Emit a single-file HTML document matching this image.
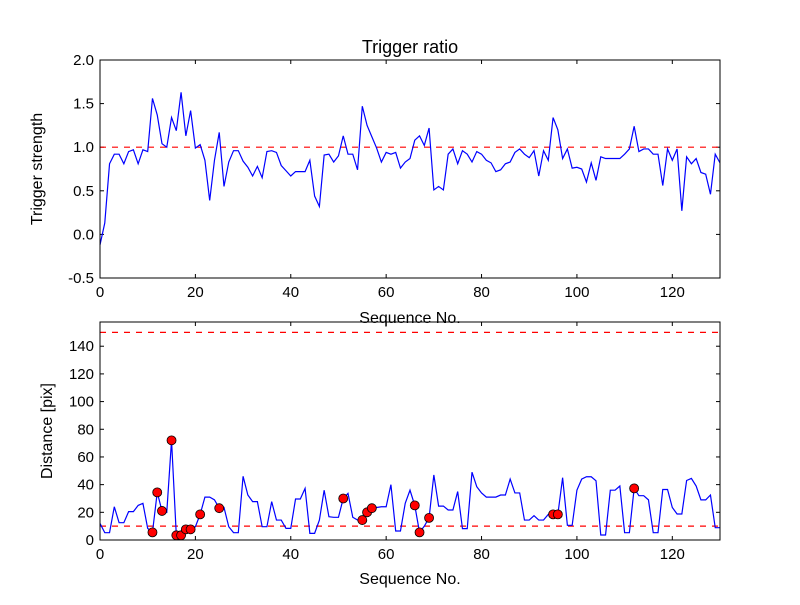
<!DOCTYPE html>
<html><head><meta charset="utf-8"><style>
body{margin:0;background:#fff}
svg text{font-family:"Liberation Sans",sans-serif;fill:#000}
</style></head><body>
<svg id="c" width="800" height="600" xmlns="http://www.w3.org/2000/svg"></svg>
<script>
const strength=[-0.12,0.13,0.81,0.92,0.92,0.81,0.95,0.97,0.81,0.97,0.95,1.56,1.37,1.04,1.0,1.34,1.19,1.63,1.13,1.42,0.99,1.03,0.85,0.39,0.85,1.17,0.55,0.83,0.96,0.96,0.84,0.77,0.67,0.78,0.65,0.95,0.96,0.94,0.79,0.73,0.67,0.72,0.72,0.72,0.85,0.44,0.32,0.91,0.92,0.83,0.9,1.13,0.92,0.92,0.74,1.47,1.25,1.12,0.99,0.83,0.94,0.92,0.94,0.76,0.83,0.87,1.08,1.13,1.02,1.22,0.51,0.55,0.51,0.92,0.98,0.81,0.96,0.92,0.83,0.95,0.92,0.85,0.82,0.72,0.74,0.81,0.83,0.94,0.98,0.92,0.88,0.96,0.67,0.96,0.85,1.34,1.2,0.87,0.98,0.76,0.77,0.75,0.6,0.82,0.62,0.89,0.87,0.87,0.87,0.87,0.92,0.98,1.24,0.95,0.98,0.98,0.92,0.92,0.56,0.98,0.85,0.98,0.27,0.89,0.81,0.87,0.71,0.69,0.46,0.92,0.82];
const distance=[12,5.3,5.3,24,12.5,12.5,20.5,20.5,25,26.5,8.4,5.5,34.4,21,20,72,3.4,3.4,7.7,7.7,9.6,18.5,31,31,29,23,23.5,9.6,5.3,5.3,46,32.5,27.7,27.7,9.6,9.6,27.7,14.4,14.4,8.4,8.4,29.6,29.6,37.3,4.8,4.8,14.4,36,16.8,16.4,16.4,30,33.7,16.4,14.4,14.4,20,23,23.5,24,24,40,6.5,6.5,26.5,36,25,5.5,10,16,47,24.5,24.5,21.7,21.7,35,8.2,8.2,49,38.5,34,31,31,31,32.5,32.5,44,34,34,14.4,14.4,17.6,14.4,14.4,18.5,18.5,18.5,45,10.6,10.6,36,44,45.7,45.7,42.8,3.6,3.6,36,36,39,5.3,5.3,37.3,32,32,29,5.3,5.3,36.5,36.5,23.5,18.8,18.8,43,44.5,39,29,29,32.5,8.9,8.9];
const flagged=[11,12,13,15,16,17,18,19,21,25,51,55,56,57,66,67,69,95,96,112];
const xTicks=[0,20,40,60,80,100,120];
const topTicks=[-0.5,0.0,0.5,1.0,1.5,2.0];
const botTicks=[0,20,40,60,80,100,120,140];
const strengthThreshold=1.0, distLow=10, distHigh=150;

const svg=document.getElementById('c');
const NS='http://www.w3.org/2000/svg';
function mk(tag,attrs,parent){const e=document.createElementNS(NS,tag);for(const k in attrs)e.setAttribute(k,attrs[k]);(parent||svg).appendChild(e);return e;}
const L=100,R=720;
const xs=v=>L+(v-0)/(130-0)*(R-L);
function panel(top,bot,ymin,ymax,ticks,fmt,name){
  const ys=v=>bot-(v-ymin)/(ymax-ymin)*(bot-top);
  const g=mk('g',{});
  
  
  xTicks.forEach(t=>{
    const x=xs(t);
    mk('line',{x1:x,x2:x,y1:bot,y2:bot-4,stroke:'#000'},g);
    mk('line',{x1:x,x2:x,y1:top,y2:top+4,stroke:'#000'},g);
    const tx=mk('text',{x:x,y:bot+19,'text-anchor':'middle','font-size':15},g);tx.textContent=t;
    
    
  });
  ticks.forEach(t=>{
    const y=ys(t);
    mk('line',{x1:L,x2:L+4,y1:y,y2:y,stroke:'#000'},g);
    mk('line',{x1:R,x2:R-4,y1:y,y2:y,stroke:'#000'},g);
    const tx=mk('text',{x:L-6,y:y+5,'text-anchor':'end','font-size':15},g);tx.textContent=fmt(t);
    
    
  });
  return {g,ys};
}
// top
const P1=panel(60,278,-0.5,2.0,topTicks,t=>t.toFixed(1),'strength-panel');
const th=mk('line',{x1:L,x2:R,y1:P1.ys(strengthThreshold),y2:P1.ys(strengthThreshold),stroke:'red','stroke-dasharray':'6,6','stroke-width':1.2},P1.g);


const l1=mk('polyline',{points:strength.map((v,i)=>xs(i)+','+P1.ys(v)).join(' '),fill:'none',stroke:'blue','stroke-width':1.2},P1.g);


mk('rect',{x:L,y:60,width:R-L,height:218,fill:'none',stroke:'#000'},P1.g);
// bottom
const P2=panel(322,540,0,157.5,botTicks,t=>t,'distance-panel');
[distLow,distHigh].forEach(v=>{
  const d=mk('line',{x1:L,x2:R,y1:P2.ys(v),y2:P2.ys(v),stroke:'red','stroke-dasharray':'6,6','stroke-width':1.2},P2.g);
  
  
});
const l2=mk('polyline',{points:distance.map((v,i)=>xs(i)+','+P2.ys(v)).join(' '),fill:'none',stroke:'blue','stroke-width':1.2},P2.g);


flagged.forEach(i=>{
  const c=mk('circle',{cx:xs(i),cy:P2.ys(distance[i]),r:4.5,fill:'red',stroke:'#000','stroke-width':0.8},P2.g);
  
  
});
mk('rect',{x:L,y:322,width:R-L,height:218,fill:'none',stroke:'#000'},P2.g);
function label(x,y,txt,name,size,rot){
  const t=mk('text',{x:x,y:y,'text-anchor':'middle','font-size':size});
  if(rot)t.setAttribute('transform','rotate(-90 '+x+' '+y+')');
  t.textContent=txt;
  
  
}
label(410,53,'Trigger ratio','chart-title',18);
label(410,323,'Sequence No.','top-x-axis-title',16);
label(410,584,'Sequence No.','bottom-x-axis-title',16);
label(42,169,'Trigger strength','top-y-axis-title',16,true);
label(52,431,'Distance [pix]','bottom-y-axis-title',16,true);
</script>
</body></html>
